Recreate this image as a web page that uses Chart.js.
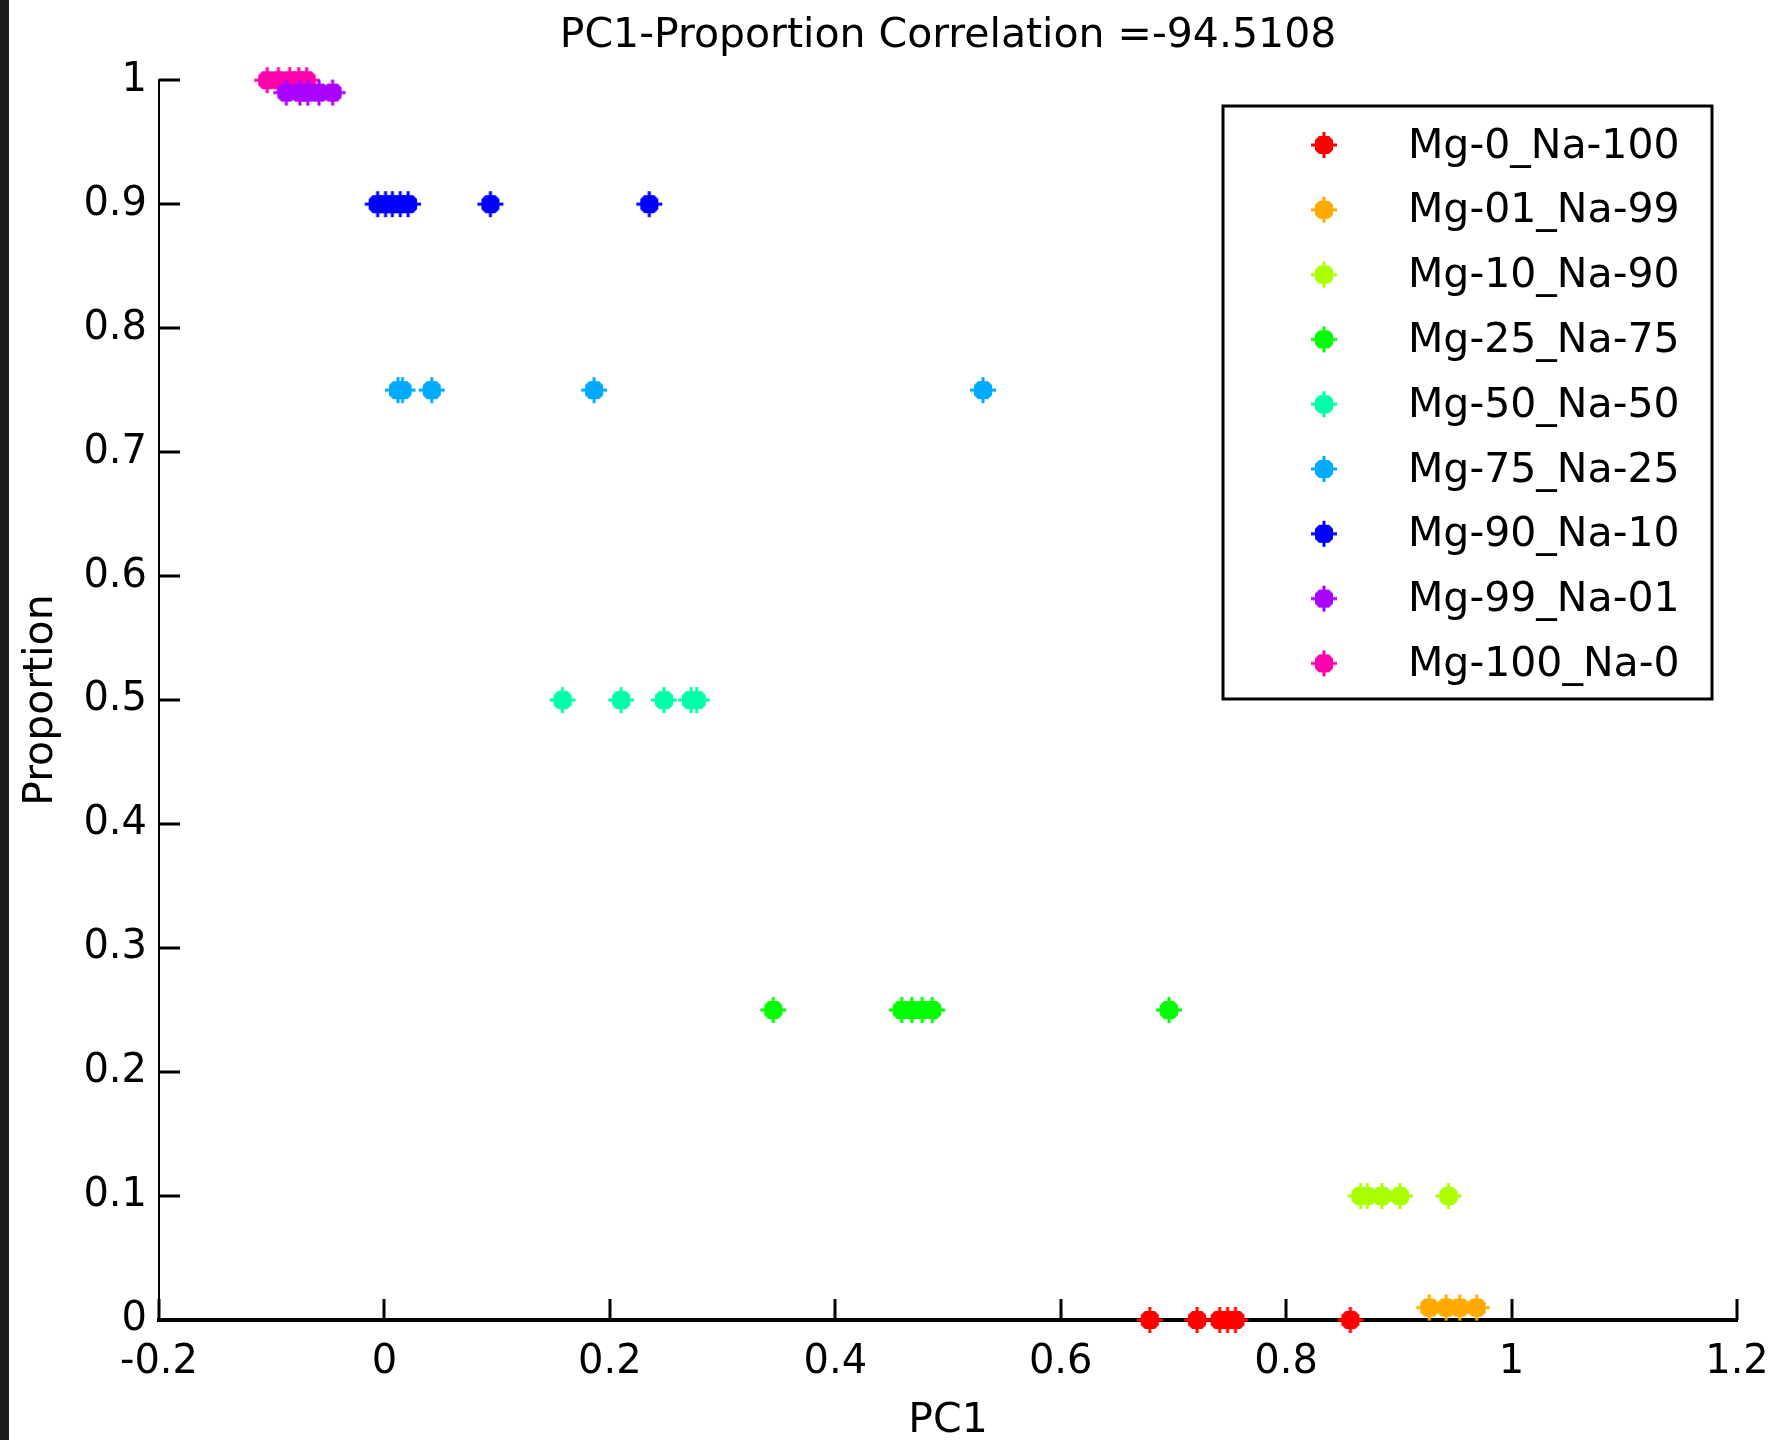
<!DOCTYPE html>
<html>
<head>
<meta charset="utf-8">
<script src="https://cdn.jsdelivr.net/npm/chart.js@4.4.1/dist/chart.umd.min.js"></script>
<style>
  html, body { margin: 0; padding: 0; background: #fff; }
  canvas { display: block; }
</style>
</head>
<body>
<canvas id="pc1-canvas" width="1773" height="1440"></canvas>
<script>
// Series (Mg / Na mixtures) and their proportion level
const seriesLabels = ['Mg-0_Na-100', 'Mg-01_Na-99', 'Mg-10_Na-90', 'Mg-25_Na-75', 'Mg-50_Na-50',
                      'Mg-75_Na-25', 'Mg-90_Na-10', 'Mg-99_Na-01', 'Mg-100_Na-0'];
const seriesColors = ['#ff0000', '#ffaa00', '#aaff00', '#00ff00', '#00ffaa',
                      '#00aaff', '#0000ff', '#aa00ff', '#ff00aa'];
const proportions = [0, 0.01, 0.1, 0.25, 0.5, 0.75, 0.9, 0.99, 1];

// PC1 values
const pc1Mg0   = [0.679, 0.721, 0.741, 0.748, 0.755, 0.857];
const pc1Mg01  = [0.927, 0.942, 0.954, 0.969];
const pc1Mg10  = [0.866, 0.872, 0.885, 0.901, 0.944];
const pc1Mg25  = [0.345, 0.459, 0.468, 0.477, 0.486, 0.696];
const pc1Mg50  = [0.158, 0.210, 0.248, 0.272, 0.277];
const pc1Mg75  = [0.012, 0.016, 0.042, 0.186, 0.531];
const pc1Mg90  = [-0.006, 0.001, 0.007, 0.014, 0.021, 0.094, 0.235];
const pc1Mg99  = [-0.087, -0.075, -0.068, -0.058, -0.046];
const pc1Mg100 = [-0.104, -0.094, -0.084, -0.076, -0.069];
const pc1Values = [pc1Mg0, pc1Mg01, pc1Mg10, pc1Mg25, pc1Mg50, pc1Mg75, pc1Mg90, pc1Mg99, pc1Mg100];

const chartTitle = 'PC1-Proportion Correlation =-94.5108';
const fontFamily = '"DejaVu Sans", "Liberation Sans", sans-serif';

// marcador tipo matlab: bloque relleno con puntas
function makeMarker(color){
    const c = document.createElement('canvas');
    c.width = 28; c.height = 28;
    const g = c.getContext('2d');
    g.fillStyle = color;
    g.beginPath();
    g.moveTo(9, 5); g.lineTo(19, 5); g.lineTo(23, 9); g.lineTo(23, 19);
    g.lineTo(19, 23); g.lineTo(9, 23); g.lineTo(5, 19); g.lineTo(5, 9);
    g.closePath();
    g.fill();
    g.fillRect(12.5, 1, 3, 26);
    g.fillRect(1, 12.5, 26, 3);
    return c;
}
const markers = seriesColors.map(makeMarker);

const frame = {
    id: 'frame',
    beforeDraw(chart){
        const ctx = chart.ctx;
        ctx.save();
        ctx.fillStyle = '#ffffff';
        ctx.fillRect(0, 0, chart.width, chart.height);
        ctx.fillStyle = '#1c1c1c';
        ctx.fillRect(0, 0, 9, chart.height);
        ctx.restore();
    },
    beforeDatasetsDraw(chart){
        // ticks hacia dentro
        const ctx = chart.ctx, x = chart.scales.x, y = chart.scales.y;
        const area = chart.chartArea;
        ctx.save();
        ctx.strokeStyle = '#000';
        ctx.lineWidth = 3;
        ctx.beginPath();
        x.ticks.forEach((t, i) => {
            const px = Math.round(x.getPixelForTick(i));
            ctx.moveTo(px, area.bottom);
            ctx.lineTo(px, area.bottom - 21);
        });
        y.ticks.forEach((t, i) => {
            const py = Math.round(y.getPixelForTick(i));
            ctx.moveTo(area.left, py);
            ctx.lineTo(area.left + 21, py);
        });
        ctx.stroke();
        ctx.restore();
    },
    afterDraw(chart){
        // leyenda en caja
        const ctx = chart.ctx;
        ctx.save();
        ctx.fillStyle = '#fff';
        ctx.fillRect(1223, 106, 489, 593);
        ctx.strokeStyle = '#000';
        ctx.lineWidth = 3;
        ctx.strokeRect(1223, 106, 489, 593);
        ctx.font = '41px ' + fontFamily;
        ctx.fillStyle = '#000';
        ctx.textBaseline = 'middle';
        chart.data.datasets.forEach((ds, i) => {
            const rowY = 145 + i * 64.8;
            ctx.drawImage(markers[i], 1324 - 14, rowY - 14);
            ctx.fillText(ds.label, 1408, rowY + 2);
        });
        ctx.restore();
    }
};

function tickText(v){
    return String(Number(v.toFixed(1)));
}

const ctx = document.getElementById('pc1-canvas').getContext('2d');

new Chart(ctx, {
    type: 'scatter',
    data: {
        datasets: seriesLabels.map((label, i) => ({
            label: label,
            data: pc1Values[i].map(v => ({ x: v, y: proportions[i] })),
            pointStyle: markers[i],
            backgroundColor: seriesColors[i],
            borderColor: seriesColors[i],
            clip: false
        }))
    },
    options: {
        responsive: false,
        devicePixelRatio: 1,
        animation: false,
        layout: { padding: { top: 0, right: 36, bottom: 0, left: 0 } },
        plugins: {
            legend: { display: false },
            tooltip: { enabled: false },
            title: {
                display: true,
                text: chartTitle,
                fullSize: false,
                color: '#000',
                font: { family: fontFamily, size: 41, weight: 'normal' },
                padding: { top: 12, bottom: 19 }
            }
        },
        scales: {
            x: {
                type: 'linear',
                min: -0.2,
                max: 1.2,
                ticks: {
                    stepSize: 0.2,
                    color: '#000',
                    font: { family: fontFamily, size: 40 },
                    padding: 19,
                    maxRotation: 0,
                    autoSkip: false,
                    callback: tickText
                },
                grid: { display: false, drawTicks: false },
                border: { display: true, color: '#000', width: 4 },
                title: {
                    display: true,
                    text: 'PC1',
                    color: '#000',
                    font: { family: fontFamily, size: 41, lineHeight: 0.9 },
                    padding: 0
                },
                afterFit(scale){
                    scale.height = 120;
                    scale.paddingLeft = 0;
                    scale.paddingRight = 0;
                }
            },
            y: {
                type: 'linear',
                min: 0,
                max: 1,
                ticks: {
                    stepSize: 0.1,
                    color: '#000',
                    font: { family: fontFamily, size: 40 },
                    padding: 12,
                    autoSkip: false,
                    callback: tickText
                },
                grid: { display: false, drawTicks: false },
                border: { display: true, color: '#000', width: 2 },
                title: {
                    display: true,
                    text: 'Proportion',
                    color: '#000',
                    font: { family: fontFamily, size: 41 },
                    padding: { top: 17, bottom: 0 }
                },
                afterFit(scale){ scale.width = 159; }
            }
        }
    },
    plugins: [frame]
});
</script>
</body>
</html>
